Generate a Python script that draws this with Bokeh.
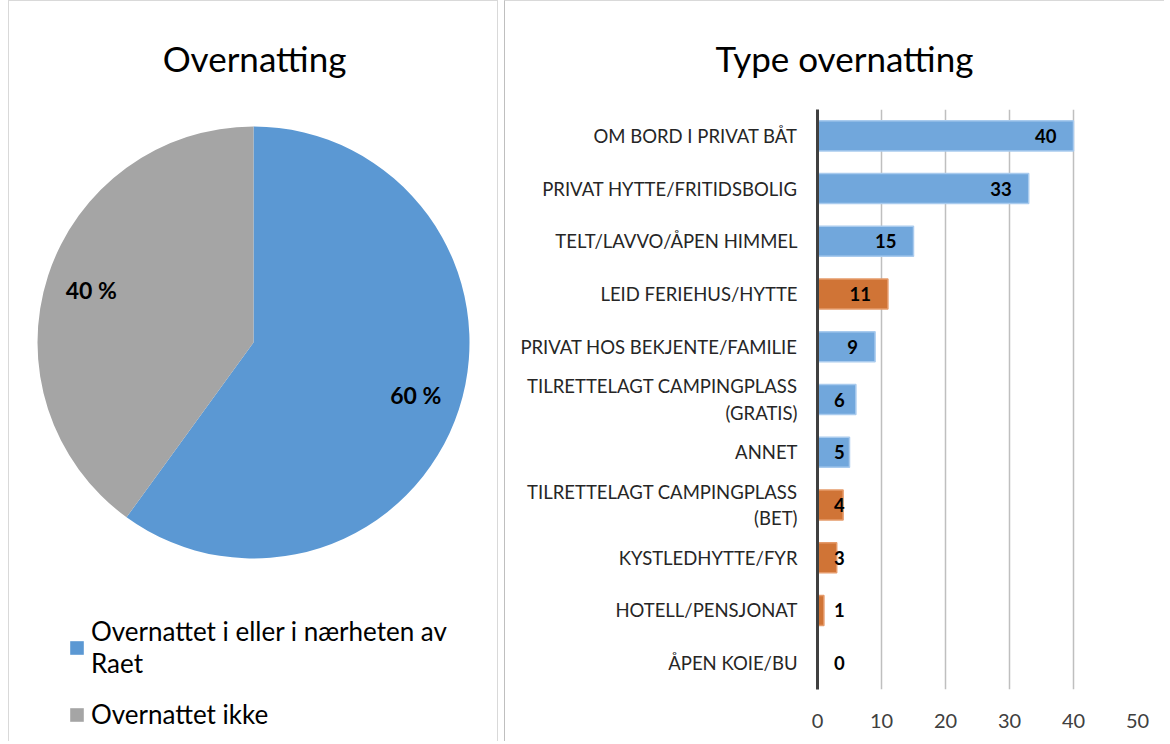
import math
from bokeh.plotting import figure
from bokeh.models import (Range1d, Legend, LegendItem, ColumnDataSource,
                          FactorRange, Spacer, FixedTicker, Title)
from bokeh.layouts import row, column
from bokeh.transform import factor_cmap
from bokeh.embed import file_html
from bokeh.resources import INLINE
from bokeh.core.properties import value

# ---------------- data ----------------
pie_labels = ["Overnattet i eller i nærheten av\nRaet", "Overnattet ikke"]
pie_values = [60, 40]

categories = [
    "OM BORD I PRIVAT BÅT",
    "PRIVAT HYTTE/FRITIDSBOLIG",
    "TELT/LAVVO/ÅPEN HIMMEL",
    "LEID FERIEHUS/HYTTE",
    "PRIVAT HOS BEKJENTE/FAMILIE",
    "TILRETTELAGT CAMPINGPLASS\n(GRATIS)",
    "ANNET",
    "TILRETTELAGT CAMPINGPLASS\n(BET)",
    "KYSTLEDHYTTE/FYR",
    "HOTELL/PENSJONAT",
    "ÅPEN KOIE/BU",
]
counts = [40, 33, 15, 11, 9, 6, 5, 4, 3, 1, 0]
groups = ["gratis", "gratis", "gratis", "betalt", "gratis", "gratis",
          "gratis", "betalt", "betalt", "betalt", "gratis"]
x_ticks = [0, 10, 20, 30, 40, 50]

FONT = "Lato"
H = 741
MB_TOP = 108
MB_BOTTOM = 53
TITLE_STANDOFF = 62

# ---------------- pie ----------------
W1 = 490
R_PX = 216.0
P1_FRAME_H = H - MB_TOP          # pie frame runs to the bottom of the canvas
fx, fy = 244.0, 233.0            # pie centre within the frame (from left / from top)
p1 = figure(width=W1, height=H, output_backend="svg", toolbar_location=None,
            x_range=Range1d(-fx / R_PX, (W1 - fx) / R_PX),
            y_range=Range1d(-(P1_FRAME_H - fy) / R_PX, fy / R_PX),
            min_border_left=0, min_border_right=0,
            min_border_top=MB_TOP, min_border_bottom=0)
p1.axis.visible = False
p1.grid.visible = False
p1.outline_line_color = None
p1.styles = {"border-top": "1px solid #d9d9d9", "border-left": "1px solid #d9d9d9",
             "border-right": "1px solid #d9d9d9"}
p1.title = Title(text="Overnatting", align="center", text_font=FONT,
                 text_font_size="35px", text_font_style="normal",
                 text_color="#000000", standoff=TITLE_STANDOFF)

total = sum(pie_values)
starts, ends, mids = [], [], []
a = math.pi / 2
for v in pie_values:
    span = 2 * math.pi * v / total
    starts.append(a)
    ends.append(a - span)
    mids.append(a - span / 2)
    a -= span
pie_src = ColumnDataSource(dict(start=starts, end=ends, label=pie_labels,
                                color=["#5b98d3", "#a5a5a5"]))
wr = p1.wedge(x=0, y=0, radius=1, start_angle="start", end_angle="end",
              direction="clock", fill_color="color", line_color=None, source=pie_src)

pct_src = ColumnDataSource(dict(
    x=[0.79 * math.cos(m) for m in mids],
    y=[0.79 * math.sin(m) for m in mids],
    t=[f"{v} %" for v in pie_values]))
p1.text(x="x", y="y", text="t", source=pct_src, text_align="center",
        text_baseline="middle", text_font=value(FONT), text_font_style="bold",
        text_font_size="23px", text_color="#000000")

legend = Legend(items=[LegendItem(label=pie_labels[i], renderers=[wr], index=i)
                       for i in range(len(pie_labels))],
                location=(59, 12), orientation="vertical",
                padding=0, margin=0, spacing=19, border_line_color=None,
                background_fill_alpha=0, glyph_width=17, glyph_height=17,
                label_standoff=6, label_text_font=FONT, label_text_font_size="26px",
                label_text_color="#000000", label_height=17)
p1.add_layout(legend)

# ---------------- bars ----------------
W2 = 660
p2 = figure(width=W2, height=H, output_backend="svg", toolbar_location=None,
            x_range=Range1d(0, 50),
            y_range=FactorRange(factors=list(reversed(categories)), range_padding=0),
            min_border_left=312, min_border_right=28, min_border_top=MB_TOP,
            min_border_bottom=MB_BOTTOM)
p2.styles = {"border-top": "1px solid #d9d9d9", "border-left": "1px solid #bfbfbf"}
p2.outline_line_color = None
p2.title = Title(text="Type overnatting", align="left", offset=-102, text_font=FONT,
                 text_font_size="35px", text_font_style="normal",
                 text_color="#000000", standoff=TITLE_STANDOFF)

bar_src = ColumnDataSource(dict(cat=categories, val=counts, grp=groups,
                                lx=[max(v, 6.9) for v in counts],
                                lt=[str(v) for v in counts]))
p2.hbar(y="cat", right="val", left=0, height=0.57, source=bar_src,
        fill_color=factor_cmap("grp", ["#71a7dc", "#d07436"], ["gratis", "betalt"]),
        line_color=factor_cmap("grp", ["#a9cbee", "#e59a6a"], ["gratis", "betalt"]),
        line_width=1.5)
p2.text(x="lx", y="cat", text="lt", source=bar_src, x_offset=-17,
        text_align="right", text_baseline="middle", text_font=value(FONT),
        text_font_style="bold", text_font_size="18.5px", text_color="#000000")

p2.xaxis.ticker = FixedTicker(ticks=x_ticks)
p2.xgrid.ticker = FixedTicker(ticks=x_ticks)
p2.xgrid.grid_line_color = "#bfbfbf"
p2.xgrid.grid_line_width = 1.5
p2.ygrid.grid_line_color = None
p2.xaxis.axis_line_color = None
p2.xaxis.major_tick_line_color = None
p2.xaxis.minor_tick_line_color = None
p2.xaxis.major_tick_out = 0
p2.xaxis.minor_tick_out = 0
p2.xaxis.major_label_standoff = 24
p2.xaxis.major_label_text_font = FONT
p2.xaxis.major_label_text_font_size = "20px"
p2.xaxis.major_label_text_color = "#404040"

p2.yaxis.axis_line_color = "#404040"
p2.yaxis.axis_line_width = 3
p2.yaxis.major_tick_line_color = None
p2.yaxis.minor_tick_line_color = None
p2.yaxis.major_tick_out = 0
p2.yaxis.minor_tick_out = 0
p2.yaxis.major_label_standoff = 20
p2.yaxis.major_label_text_font = FONT
p2.yaxis.major_label_text_font_size = "18.5px"
p2.yaxis.major_label_text_color = "#262626"

layout = row(Spacer(width=8), column(p1), Spacer(width=6), column(p2))
open("out.html", "w").write(file_html(layout, INLINE))
